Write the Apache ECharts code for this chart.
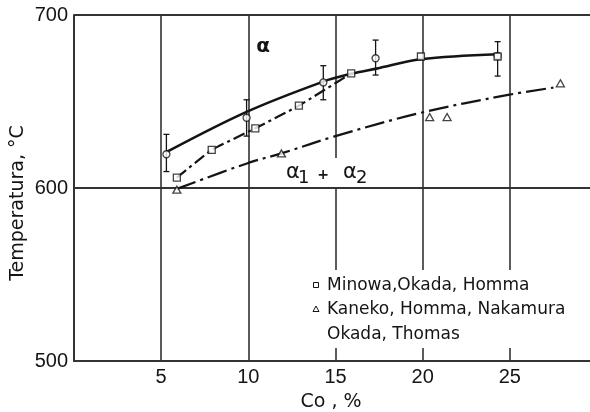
<!DOCTYPE html>
<html>
<head>
<meta charset="utf-8">
<script src="https://cdn.jsdelivr.net/npm/echarts@6/dist/echarts.min.js"></script>
<style>html,body{margin:0;padding:0;background:#fff}#c{width:590px;height:412px}</style>
</head>
<body>
<div id="c"></div>
<script>
// Solid curve (alpha boundary)
const alphaCurveX = [5.35, 9.9, 14.3, 15.9, 17.35, 19.9, 24.3];
const alphaCurveY = [621, 644, 661.5, 666, 669, 674.4, 677.3];
// Dash-dot curve through Minowa points
const minowaCurveX = [5.9, 7.9, 10.4, 12.9, 15.9];
const minowaCurveY = [606, 622, 634.5, 647.6, 666.3];
// Long dash-dot curve (alpha1 + alpha2 boundary)
const kanekoCurveX = [5.9, 10, 11.9, 14.9, 19.9, 24.9, 27.5];
const kanekoCurveY = [599.5, 614.5, 620, 629.7, 643.5, 653.8, 658];
// Minowa, Okada, Homma (squares)
const minowaCo = [5.9, 7.9, 10.4, 12.9, 15.9, 19.9, 24.3];
const minowaT = [606, 622, 634.5, 647.6, 666.3, 676, 676];
// Kaneko, Homma, Nakamura (triangles)
const kanekoCo = [5.9, 11.9, 20.4, 21.4, 27.9];
const kanekoT = [599, 620, 641, 641, 660.5];
// Okada, Thomas (circles with error bars)
const okadaCo = [5.3, 9.9, 14.3, 17.3, 24.3];
const okadaT = [619.5, 640.6, 661, 675, 676.3];
const okadaLo = [609.5, 630, 651, 665.3, 664.7];
const okadaHi = [631, 651, 670.7, 685.5, 684.6];
// Axis ticks
const xTicks = [5, 10, 15, 20, 25];
const yTicks = [500, 600, 700];

const zip = (a, b) => a.map((v, i) => [v, b[i]]);
const INK = '#141414';
const GRID = '#333';

const chart = echarts.init(document.getElementById('c'), null, {renderer: 'canvas'});
chart.setOption({
  animation: false,
  backgroundColor: '#fff',
  grid: {left: 74, top: 15, bottom: 51, right: -7, outerBoundsMode: 'none', containLabel: false},
  xAxis: {
    type: 'value', min: 0, max: 30, interval: 5,
    axisLine: {show: true, lineStyle: {color: GRID, width: 2}},
    axisTick: {show: false},
    axisLabel: {
      margin: 6, color: INK, fontFamily: 'Liberation Sans', fontSize: 20,
      formatter: v => xTicks.indexOf(v) >= 0 ? String(v) : ''
    },
    splitLine: {show: true, lineStyle: {color: GRID, width: 1.6}}
  },
  yAxis: {
    type: 'value', min: 500, max: 700, interval: 100,
    axisLine: {show: true, lineStyle: {color: GRID, width: 2}},
    axisTick: {show: false},
    axisLabel: {
      margin: 6, color: INK, fontFamily: 'Liberation Sans', fontSize: 20,
      formatter: v => yTicks.indexOf(v) >= 0 ? String(v) : ''
    },
    splitLine: {show: true, lineStyle: {color: GRID, width: 1.8}}
  },
  graphic: [
    {type: 'rect', z: 50, shape: {x: 311, y: 270, width: 262, height: 78}, style: {fill: '#fff'}},
    {type: 'rect', z: 50, shape: {x: 283, y: 158, width: 88, height: 29}, style: {fill: '#fff'}},
    {type: 'rect', z: 60, shape: {x: 313.5, y: 282.5, width: 5, height: 5}, style: {fill: '#fff', stroke: INK, lineWidth: 1}},
    {type: 'polygon', z: 60, shape: {points: [[316, 306], [313, 311.5], [319, 311.5]]}, style: {fill: '#fff', stroke: INK, lineWidth: 1}},
    {type: 'text', z: 60, x: 327, y: 286, style: {text: 'Minowa,Okada, Homma', fill: INK, font: '17px "DejaVu Sans"', textVerticalAlign: 'middle'}},
    {type: 'text', z: 60, x: 327, y: 310, style: {text: 'Kaneko, Homma, Nakamura', fill: INK, font: '17px "DejaVu Sans"', textVerticalAlign: 'middle'}},
    {type: 'text', z: 60, x: 327, y: 335, style: {text: 'Okada, Thomas', fill: INK, font: '17px "DejaVu Sans"', textVerticalAlign: 'middle'}},
    {type: 'text', z: 60, x: 263, y: 47, style: {text: 'α', fill: INK, font: 'bold 20px "DejaVu Sans"', textAlign: 'center', textVerticalAlign: 'middle'}},
    {type: 'text', z: 60, x: 286, y: 173, style: {text: 'α', fill: INK, font: '21px "DejaVu Sans"', textVerticalAlign: 'middle'}},
    {type: 'text', z: 60, x: 298, y: 178, style: {text: '1', fill: INK, font: '18px "DejaVu Sans"', textVerticalAlign: 'middle'}},
    {type: 'text', z: 60, x: 323, y: 175, style: {text: '+', fill: INK, font: 'bold 14px "DejaVu Sans"', textAlign: 'center', textVerticalAlign: 'middle'}},
    {type: 'text', z: 60, x: 343, y: 173, style: {text: 'α', fill: INK, font: '21px "DejaVu Sans"', textVerticalAlign: 'middle'}},
    {type: 'text', z: 60, x: 356, y: 178, style: {text: '2', fill: INK, font: '18px "DejaVu Sans"', textVerticalAlign: 'middle'}},
    {type: 'text', z: 60, x: 331, y: 402, style: {text: 'Co , %', fill: INK, font: '19px "DejaVu Sans"', textAlign: 'center', textVerticalAlign: 'middle'}},
    {type: 'text', z: 60, x: 18, y: 203, rotation: Math.PI / 2, style: {text: 'Temperatura, °C', fill: INK, font: '19px "DejaVu Sans"', textAlign: 'center', textVerticalAlign: 'middle'}}
  ],
  series: [
    {
      type: 'line', data: zip(alphaCurveX, alphaCurveY), smooth: 0.35, showSymbol: false, symbol: 'none',
      lineStyle: {color: INK, width: 2.6}, z: 5
    },
    {
      type: 'line', data: zip(minowaCurveX, minowaCurveY), smooth: 0.12, showSymbol: false, symbol: 'none',
      lineStyle: {color: INK, width: 2.2, type: [12, 4, 3, 4]}, z: 5
    },
    {
      type: 'line', data: zip(kanekoCurveX, kanekoCurveY), smooth: 0.35, showSymbol: false, symbol: 'none',
      lineStyle: {color: INK, width: 2.2, type: [20, 5, 3, 5]}, z: 5
    },
    {
      type: 'custom', z: 6, clip: false,
      data: okadaCo.map((c, i) => [c, okadaLo[i], okadaHi[i]]),
      renderItem: (params, api) => {
        const lo = api.coord([api.value(0), api.value(1)]);
        const hi = api.coord([api.value(0), api.value(2)]);
        const st = {stroke: INK, lineWidth: 1.3};
        return {type: 'group', children: [
          {type: 'line', shape: {x1: lo[0], y1: lo[1], x2: hi[0], y2: hi[1]}, style: st},
          {type: 'line', shape: {x1: lo[0] - 3, y1: lo[1], x2: lo[0] + 3, y2: lo[1]}, style: st},
          {type: 'line', shape: {x1: hi[0] - 3, y1: hi[1], x2: hi[0] + 3, y2: hi[1]}, style: st}
        ]};
      }
    },
    {
      type: 'scatter', data: zip(okadaCo, okadaT), symbol: 'circle', symbolSize: 7, z: 8,
      itemStyle: {color: '#fff', borderColor: INK, borderWidth: 1.3}
    },
    {
      type: 'scatter', data: zip(minowaCo, minowaT), symbol: 'rect', symbolSize: 7, z: 9,
      itemStyle: {color: '#fff', borderColor: INK, borderWidth: 1.3}
    },
    {
      type: 'scatter', data: zip(kanekoCo, kanekoT), symbol: 'triangle', symbolSize: [8, 7], z: 9,
      itemStyle: {color: '#fff', borderColor: INK, borderWidth: 1.3}
    }
  ]
});
</script>
</body>
</html>
